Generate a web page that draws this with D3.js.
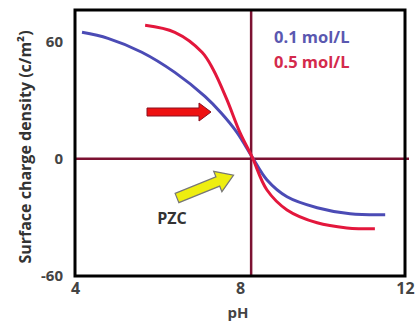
<!DOCTYPE html>
<html>
<head>
<meta charset="utf-8">
<script src="https://cdn.jsdelivr.net/npm/d3@7"></script>
<style>
  body { margin: 0; background: #fff; }
  svg { font-family: "Open Sans", sans-serif; font-weight: bold; }
</style>
</head>
<body>
<svg width="416" height="324"></svg>
<script>
// pH readings and surface charge for the two ionic strengths
const phLow = [4.17, 4.8, 5.62, 6.42, 7.15, 7.55, 7.93, 8.29, 8.65, 9.14, 9.87, 10.67, 11.52];
const sigmaLow = [64.6, 61.5, 54.4, 44.1, 31.8, 23.2, 13.3, 1, -10.8, -19.5, -25.1, -28.2, -28.7];
const phHigh = [5.7, 6.42, 7.08, 7.35, 7.68, 8.0, 8.29, 8.65, 9.14, 9.87, 10.59, 11.27];
const sigmaHigh = [68.2, 64.6, 54.4, 45.6, 30.3, 13.3, 1, -15.9, -26.2, -32.8, -35.4, -35.9];
const seriesNames = ["0.1 mol/L", "0.5 mol/L"];
const xTicks = [4, 8, 12];
const yTicks = [-60, 0, 60];
const pzc = 8.27;

const svg = d3.select("svg");
const x = d3.scaleLinear().domain([4, 12]).range([75, 405]);
const y = d3.scaleLinear().domain([-60, 76]).range([276, 10]);

const colors = ["#4b4bb5", "#e3173c"];
const maroon = "#7c1232";

// reference lines at zero charge and PZC
svg.append("line")
  .attr("x1", x(4)).attr("x2", x(12) + 4)
  .attr("y1", y(0)).attr("y2", y(0))
  .attr("stroke", maroon).attr("stroke-width", 2.5);
svg.append("line")
  .attr("x1", x(pzc)).attr("x2", x(pzc))
  .attr("y1", y(76)).attr("y2", y(-60))
  .attr("stroke", maroon).attr("stroke-width", 2.5);

// frame
svg.append("rect")
  .attr("x", x(4)).attr("y", y(76))
  .attr("width", x(12) - x(4)).attr("height", y(-60) - y(76))
  .attr("fill", "none").attr("stroke", "#000").attr("stroke-width", 3);

const line = d3.line().x(d => x(d[0])).y(d => y(d[1])).curve(d3.curveCatmullRom.alpha(0.5));
const series = [d3.zip(phLow, sigmaLow), d3.zip(phHigh, sigmaHigh)];
svg.selectAll("path.curve")
  .data(series)
  .join("path")
  .attr("class", "curve")
  .attr("d", line)
  .attr("fill", "none")
  .attr("stroke", (d, i) => colors[i])
  .attr("stroke-width", 3);

// axes
const yAxis = svg.append("g")
  .attr("transform", `translate(${x(4)},0)`)
  .call(d3.axisLeft(y).tickValues(yTicks).tickSize(0).tickPadding(12).tickFormat(d => String(d)));
yAxis.select(".domain").remove();
yAxis.selectAll("text").attr("font-size", 15).attr("fill", "#444").attr("font-family", "Open Sans").attr("font-weight", "bold");

const xAxis = svg.append("g")
  .attr("transform", `translate(0,${y(-60)})`)
  .call(d3.axisBottom(x).tickValues(xTicks).tickSize(0).tickPadding(7));
xAxis.select(".domain").remove();
xAxis.selectAll("text").attr("font-size", 16).attr("fill", "#444").attr("font-family", "Open Sans").attr("font-weight", "bold");

svg.append("text")
  .attr("x", 238).attr("y", 318)
  .attr("text-anchor", "middle")
  .attr("font-size", 15).attr("fill", "#444")
  .text("pH");

svg.append("text")
  .attr("transform", "translate(31,147) rotate(-90)")
  .attr("text-anchor", "middle")
  .attr("font-size", 16).attr("fill", "#333")
  .text("Surface charge density (c/m²)");

// legend
svg.selectAll("text.legend")
  .data(seriesNames)
  .join("text")
  .attr("class", "legend")
  .attr("x", 274)
  .attr("y", (d, i) => 43 + i * 25)
  .attr("font-size", 16.5)
  .attr("fill", (d, i) => i === 0 ? "#5a58b0" : "#d42a4c")
  .text(d => d);

// red arrow pointing right
const redArrow = [[0, -4], [52, -4], [52, -9], [64, 0], [52, 9], [52, 4], [0, 4]];
svg.append("path")
  .attr("transform", "translate(147,112)")
  .attr("d", d3.line()(redArrow) + "Z")
  .attr("fill", "#ee1111").attr("stroke", "#8a1020").attr("stroke-width", 1);

// yellow arrow towards PZC
const yellowArrow = [[0, -5], [44, -5], [44, -11], [61, 0], [44, 11], [44, 5], [0, 5]];
svg.append("path")
  .attr("transform", "translate(177,198) rotate(-22)")
  .attr("d", d3.line()(yellowArrow) + "Z")
  .attr("fill", "#eeee10").attr("stroke", "#777").attr("stroke-width", 1.2);

svg.append("text")
  .attr("x", 172).attr("y", 224)
  .attr("text-anchor", "middle")
  .attr("font-size", 16).attr("fill", "#333")
  .text("PZC");
</script>
</body>
</html>
